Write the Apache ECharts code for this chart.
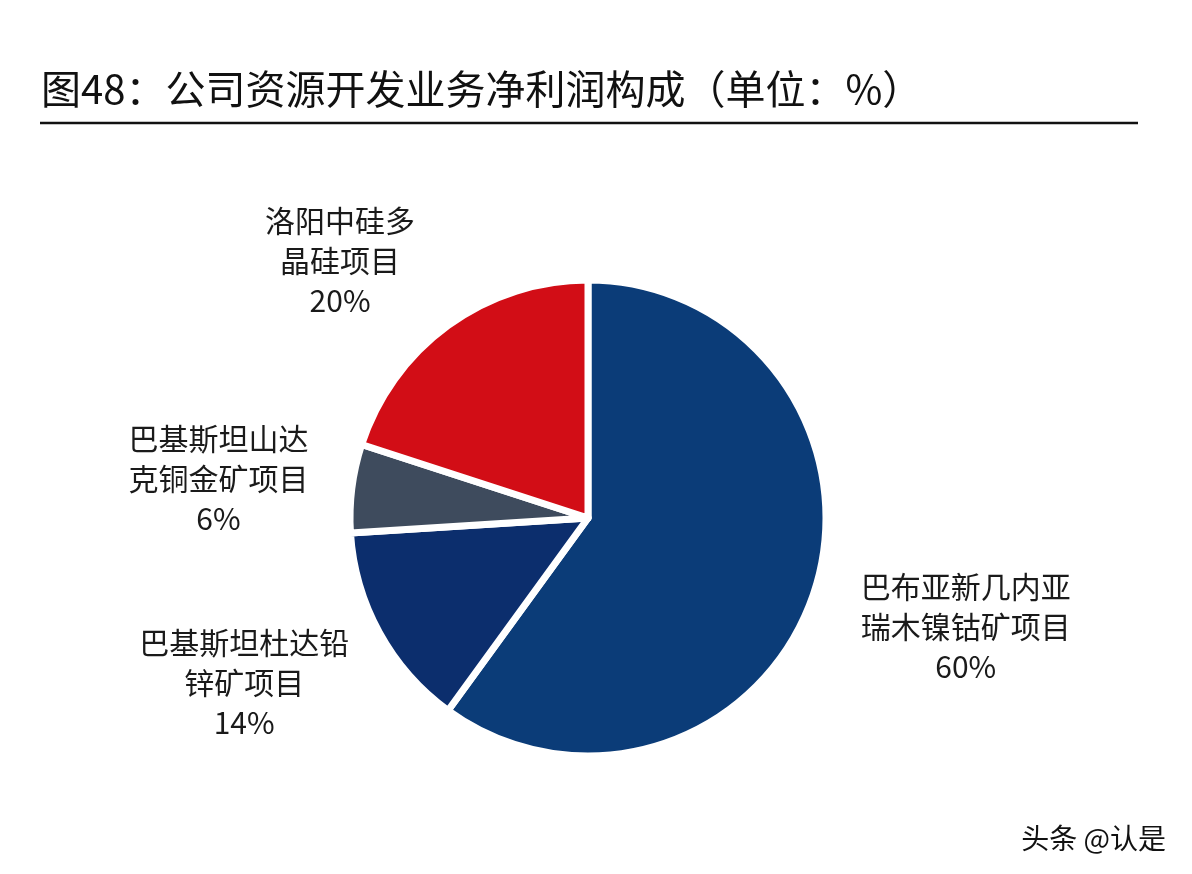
<!DOCTYPE html>
<html>
<head>
<meta charset="utf-8">
<script src="https://cdn.jsdelivr.net/npm/echarts@6/dist/echarts.min.js"></script>
<style>
  html, body { margin: 0; padding: 0; background: #fff; }
  #chart { width: 1192px; height: 874px; }
</style>
</head>
<body>
<div id="chart"></div>
<script>
// data
const projects = [
  '巴布亚新几内亚\n瑞木镍钴矿项目',
  '巴基斯坦杜达铅\n锌矿项目',
  '巴基斯坦山达\n克铜金矿项目',
  '洛阳中硅多\n晶硅项目'
];
const shares = [60, 14, 6, 20];

// styles
const sliceColors = ['#0b3c78', '#0c2e6d', '#3e4b5d', '#d20d16'];
const labelReach = [
  { length: 115, length2: -68 },
  { length: 103, length2: -65 },
  { length: 77, length2: -38 },
  { length: 80, length2: -19 }
];

const chart = echarts.init(document.getElementById('chart'));

const option = {
  backgroundColor: '#fff',
  animation: false,
  title: {
    text: '图48：公司资源开发业务净利润构成（单位：%）',
    left: 36,
    top: 64,
    textStyle: {
      fontFamily: 'Noto Sans CJK SC',
      fontSize: 40,
      fontWeight: 'normal',
      color: '#111'
    }
  },
  graphic: [
    {
      type: 'line',
      shape: { x1: 40, y1: 123, x2: 1138, y2: 123 },
      style: { stroke: '#111', lineWidth: 2.5 }
    },
    {
      type: 'text',
      right: 26,
      bottom: 22,
      style: {
        text: '头条 @认是',
        font: '28px "Noto Sans CJK SC"',
        fill: '#111'
      }
    }
  ],
  series: [
    {
      type: 'pie',
      center: [588, 518],
      radius: 238,
      startAngle: 90,
      clockwise: true,
      avoidLabelOverlap: false,
      itemStyle: {
        borderColor: '#fff',
        borderWidth: 7
      },
      label: {
        show: true,
        position: 'outside',
        fontFamily: 'Noto Sans CJK SC',
        fontSize: 30,
        lineHeight: 40,
        color: '#1a1a1a',
        formatter: p => p.name + '\n' + p.value + '%'
      },
      labelLine: { show: false },
      labelLayout: p => ({
        x: p.labelRect.x + p.labelRect.width / 2,
        y: p.labelRect.y + p.labelRect.height / 2,
        align: 'center',
        verticalAlign: 'middle'
      }),
      data: projects.map((name, i) => ({
        name: name,
        value: shares[i],
        itemStyle: { color: sliceColors[i] },
        labelLine: { show: false, length: labelReach[i].length, length2: labelReach[i].length2 }
      }))
    }
  ]
};

chart.setOption(option);
window.addEventListener('resize', () => chart.resize());
</script>
</body>
</html>
